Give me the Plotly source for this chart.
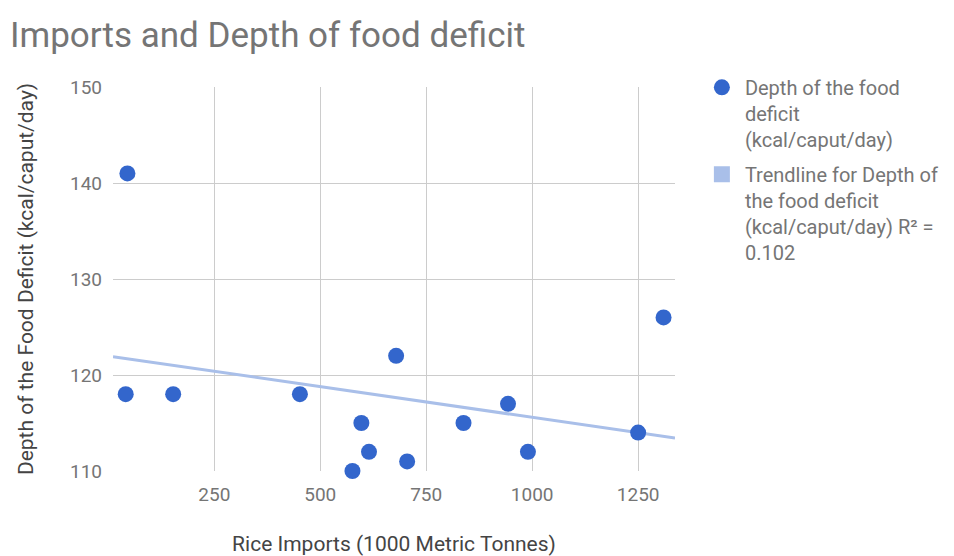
import numpy as np
import plotly.graph_objects as go

# Data
rice_imports = [45, 41, 153, 452, 597, 615, 576, 679, 705, 838, 943, 990, 1250, 1310]
food_deficit = [141, 118, 118, 118, 115, 112, 110, 122, 111, 115, 117, 112, 114, 126]
x_ticks = [250, 500, 750, 1000, 1250]
y_ticks = [110, 120, 130, 140, 150]
x_range = [11, 1337]
y_range = [110, 150]

series_name = "Depth of the food<br>deficit<br>(kcal/caput/day)"

# Linear trendline (least squares), as Google Charts computes
xs = np.array(rice_imports, dtype=float)
ys = np.array(food_deficit, dtype=float)
slope, intercept = np.polyfit(xs, ys, 1)
pred = slope * xs + intercept
r2 = 1 - np.sum((ys - pred) ** 2) / np.sum((ys - ys.mean()) ** 2)
trend_x = np.array(x_range, dtype=float)
trend_y = slope * trend_x + intercept
trend_name = ("Trendline for Depth of<br>the food deficit<br>(kcal/caput/day) R² =<br>"
              f"{r2:.3f}")

BLUE = "#3366cc"
TREND = "#a9bfe9"
GREY = "#757575"
DARK = "#444444"

fig = go.Figure()
fig.add_trace(go.Scatter(
    x=trend_x, y=trend_y, mode="lines",
    line=dict(color=TREND, width=3),
    showlegend=False, hoverinfo="skip",
))
fig.add_trace(go.Scatter(
    x=rice_imports, y=food_deficit, mode="markers",
    marker=dict(color=BLUE, size=16),
    name=series_name, cliponaxis=False, legendgroup="a",
))
# legend entry for the trendline (square swatch)
fig.add_trace(go.Scatter(
    x=[None], y=[None], mode="markers",
    marker=dict(color=TREND, size=16, symbol="square"),
    name=trend_name, legendgroup="b",
))

fig.update_layout(
    width=954, height=556,
    margin=dict(l=113, r=279, t=87, b=85, autoexpand=False),
    paper_bgcolor="white", plot_bgcolor="white",
    font=dict(family="Roboto", color=GREY, size=20),
    title=dict(text="Imports and Depth of food deficit",
               xref="container", x=10 / 954, xanchor="left",
               yref="container", y=1 - 35 / 556, yanchor="middle",
               font=dict(size=35, color=GREY)),
    legend=dict(x=1.0425, xanchor="left", y=1.05, yanchor="top",
                valign="top", font=dict(size=20, color=GREY),
                traceorder="grouped", tracegroupgap=6, itemwidth=36),
    showlegend=True,
)

fig.update_xaxes(
    range=x_range, tickvals=x_ticks, ticktext=[str(v) for v in x_ticks],
    showgrid=True, gridcolor="#cccccc", gridwidth=1,
    zeroline=False, showline=False, ticks="", automargin=False,
    ticklabelstandoff=10,
    tickfont=dict(size=19, color=GREY),
    title=dict(text="Rice Imports (1000 Metric Tonnes)",
               font=dict(size=21, color=DARK), standoff=35),
)
fig.update_yaxes(
    range=y_range, tickvals=y_ticks, ticktext=[str(v) for v in y_ticks],
    showgrid=True, gridcolor="#cccccc", gridwidth=1,
    zeroline=False, showline=False, ticks="", automargin=False,
    ticklabelstandoff=10,
    tickfont=dict(size=19, color=GREY),
    title=dict(text="Depth of the Food Deficit (kcal/caput/day)",
               font=dict(size=21, color=DARK), standoff=30),
)

fig.write_html("out.html")
